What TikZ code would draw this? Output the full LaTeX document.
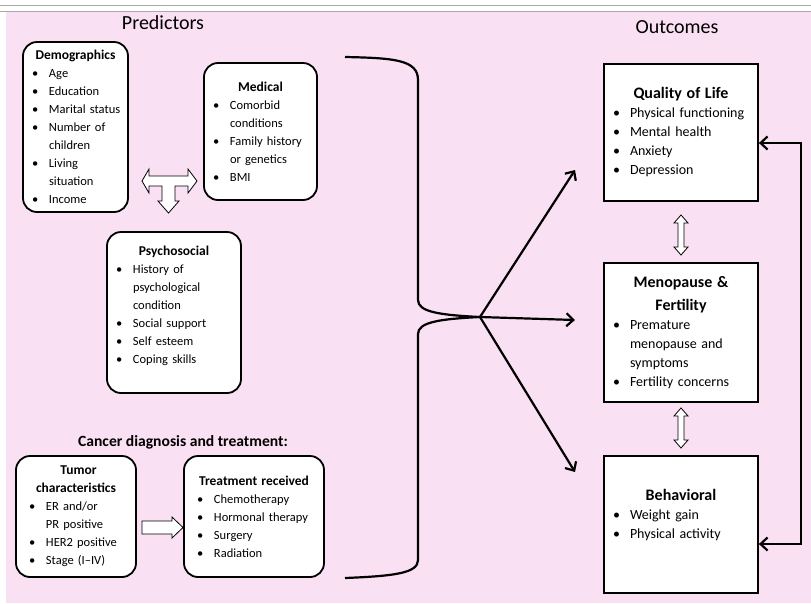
\documentclass[tikz,border=0pt]{standalone}
\usepackage{fontspec}
\setmainfont{Carlito}
\usetikzlibrary{arrows.meta}

\definecolor{pinkbg}{RGB}{250,224,243}
\definecolor{rulegray}{RGB}{170,170,170}

% box headings and bullet lines
\newcommand\hd[1]{{\centering\bfseries\fontsize{13.5}{18}\selectfont #1\par}}
\newcommand\ohd[1]{{\centering\bfseries\fontsize{16}{23}\selectfont #1\par}}
\newcommand\itm[1]{\par\hangindent=19pt\hangafter=1\noindent\makebox[19pt][l]{\hspace{2pt}\textbullet}#1}

\begin{document}
\begin{tikzpicture}[x=1pt, y=-1pt,
    rbox/.style={draw, line width=1.8pt, rounded corners=14pt, fill=white, align=left,
      inner xsep=7pt, inner ysep=3pt, font=\fontsize{12.5}{18}\selectfont},
    obox/.style={draw, line width=1.8pt, fill=white, align=left, inner xsep=7pt,
      text width=140pt, minimum width=154pt, font=\fontsize{14}{19}\selectfont},
    title/.style={font=\fontsize{20}{24}\selectfont},
    conn/.style={line width=2.2pt, -{Straight Barb[length=7pt,width=13pt]}},
    brace/.style={line width=2.2pt},
    hollow/.style={draw, line width=0.8pt, fill=white}]

  % background
  \useasboundingbox (0,0) rectangle (811,603);
  \fill[white] (0,0) rectangle (811,603);
  \fill[pinkbg] (6,11) rectangle (811,603);
  \draw[rulegray] (0,5) -- (811,5);
  \draw[rulegray] (0,11) -- (811,11);

  % titles
  \node[title] (pred) at (163,23) {Predictors};
  \node[title] (outc) at (677,27) {Outcomes};
  \node[font=\bfseries\fontsize{15.6}{18}\selectfont] (cancer) at (183,442) {Cancer diagnosis and treatment:};

  % predictors
  \node[rbox, text width=91pt, minimum width=105pt, minimum height=170pt] (demo) at (75.5,127)
    {\hd{Demographics}\itm{Age}\itm{Education}\itm{Marital status}\itm{Number of\newline children}%
     \itm{Living\newline situation}\itm{Income}};
  \node[rbox, text width=99pt, minimum width=113pt, minimum height=137pt] (med) at (260.5,131.5)
    {\hd{Medical}\itm{Comorbid\newline conditions}\itm{Family history\newline or genetics}\itm{BMI}};
  \node[rbox, text width=120pt, minimum width=134pt, minimum height=161pt] (psy) at (174,312.5)
    {\hd{Psychosocial}\itm{History of\newline psychological\newline condition}\itm{Social support}%
     \itm{Self esteem}\itm{Coping skills}\par\kern14pt};
  \node[rbox, inner xsep=11pt, text width=98pt, minimum width=120pt, minimum height=121pt] (tumor) at (76,516.5)
    {\kern5pt\hd{Tumor\\characteristics}\itm{ER and/or\newline PR positive}\itm{HER2 positive}\itm{Stage (I--IV)}};
  \node[rbox, inner xsep=11pt, text width=118pt, minimum width=140pt, minimum height=121pt] (treat) at (254,516.5)
    {\hd{Treatment received}\itm{Chemotherapy}\itm{Hormonal therapy}\itm{Surgery}\itm{Radiation}};

  % outcomes
  \node[obox, minimum height=137pt] (qol) at (681,132.5)
    {\ohd{Quality of Life}\itm{Physical functioning}\itm{Mental health}\itm{Anxiety}\itm{Depression}};
  \node[obox, minimum height=139pt] (meno) at (681,332.5)
    {\ohd{Menopause \&\\Fertility}\itm{Premature\newline menopause and\newline symptoms}\itm{Fertility concerns}};
  \node[obox, minimum height=137pt] (behav) at (681,524.5)
    {\ohd{Behavioral}\itm{Weight gain}\itm{Physical activity}\par\kern18pt};

  % block arrows
  \draw[hollow] (142,181) -- (149,169) -- (149,176) -- (188,176) -- (188,169) -- (197,181)
    -- (188,193) -- (188,186) -- (175,186) -- (175,201) -- (179,201) -- (168.5,213)
    -- (158,201) -- (162,201) -- (162,186) -- (149,186) -- (149,193) -- cycle;
  \draw[hollow] (142,521) -- (172,521) -- (172,517) -- (183,527.5) -- (172,538)
    -- (172,534) -- (142,534) -- cycle;
  \foreach \y in {235,428}
    \draw[hollow, shift={(681,\y)}] (0,-20) -- (7,-12) -- (3,-12) -- (3,12) -- (7,12) -- (0,20)
      -- (-7,12) -- (-3,12) -- (-3,-12) -- (-7,-12) -- cycle;

  % brace and arrows
  \coordinate (bt) at (345,57);
  \coordinate (bb) at (345,578);
  \coordinate (tip) at (480,317);
  \draw[brace] (bt) .. controls (395,58) and (418,60) .. (418,80) -- (418,300)
    .. controls (418,312) and (440,315) .. (tip);
  \draw[brace] (tip) .. controls (440,319) and (418,322) .. (418,334) -- (418,560)
    .. controls (418,573) and (395,576) .. (bb);
  \coordinate (aq) at (575,170);
  \coordinate (am) at (575,320);
  \coordinate (ab) at (575,472);
  \draw[conn] (tip) -- (aq);
  \draw[conn] (tip) -- (am);
  \draw[conn] (tip) -- (ab);

  % feedback
  \draw[conn, {Straight Barb[length=7pt,width=13pt]}-{Straight Barb[length=7pt,width=13pt]}]
    ([yshift=-10.5pt]qol.east) -- ++(42,0) |- ([yshift=-19.5pt]behav.east);
\end{tikzpicture}
\end{document}
